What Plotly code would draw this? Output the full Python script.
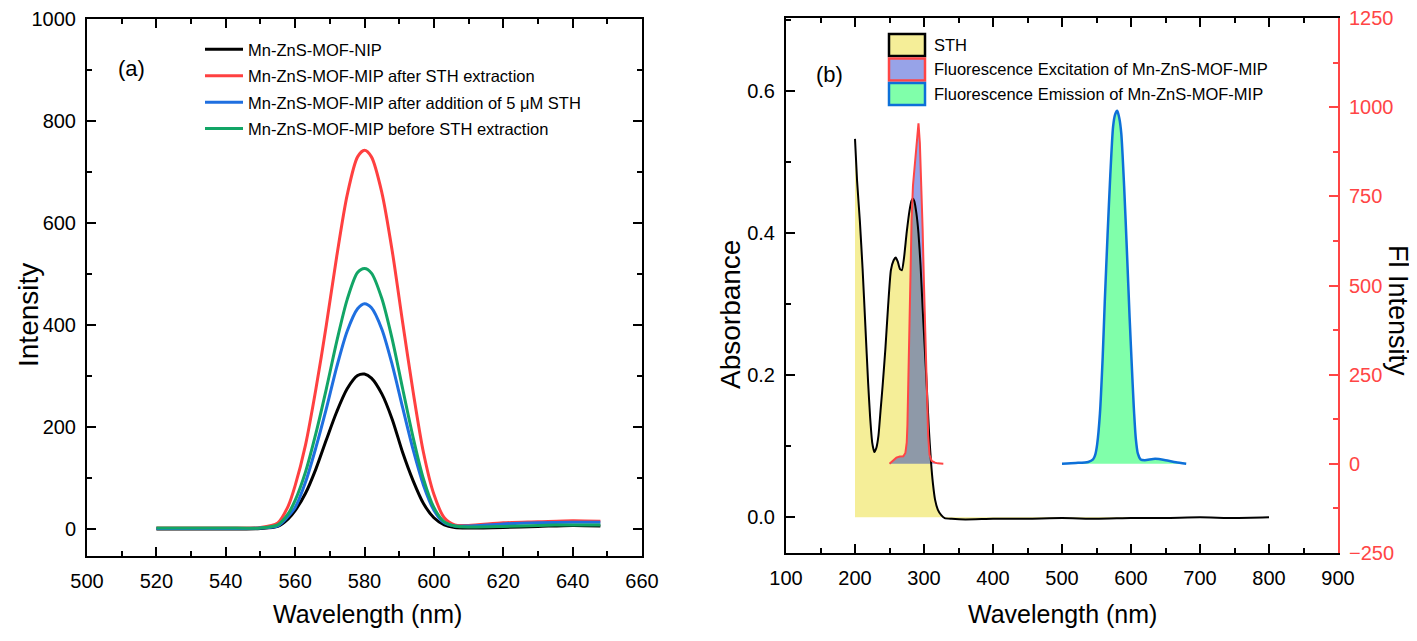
import numpy as np
import plotly.graph_objects as go

W, H = 1417, 641
OFF = 8  # the page body adds an 8 px margin around the figure

# (a) emission spectra
wl_a = [520, 530, 540, 550, 555, 558, 560, 563, 566, 569, 572, 575, 578, 580,
        582, 585, 588, 591, 594, 597, 600, 603, 606, 610, 620, 630, 640, 648]
nip = [0, 0, 0, 1, 5, 20, 36, 70, 118, 175, 230, 275, 301, 304,
       296, 265, 215, 150, 95, 50, 22, 8, 3, 2, 3, 5, 7, 6]
mip_after_ext = [2, 2, 2, 3, 12, 45, 85, 165, 275, 400, 535, 655, 730, 743,
                 730, 660, 545, 405, 270, 150, 68, 22, 8, 7, 12, 14, 16, 15]
mip_after_add = [1, 1, 1, 2, 6, 25, 42, 92, 160, 236, 318, 388, 432, 442,
                 434, 392, 322, 238, 156, 86, 37, 12, 6, 6, 10, 12, 13, 13]
mip_before_ext = [2, 2, 2, 2, 8, 30, 56, 112, 188, 275, 368, 450, 503, 511,
                  502, 452, 372, 275, 180, 98, 42, 14, 6, 4, 5, 7, 8, 8]

# (b) STH absorbance
sth_wl = [200, 203, 207, 211, 215, 219, 222, 225, 228, 231, 234, 237, 240, 244,
          248, 252, 256, 259, 262, 265, 268, 271, 275, 279, 282, 284, 286, 289,
          292, 295, 298, 301, 304, 307, 310, 313, 316, 320, 325, 330, 340, 360,
          400, 450, 500, 550, 600, 650, 700, 750, 800]
sth_abs = [0.533, 0.474, 0.418, 0.350, 0.270, 0.190, 0.140, 0.105, 0.092, 0.098,
           0.115, 0.150, 0.185, 0.237, 0.298, 0.348, 0.362, 0.366, 0.360, 0.350,
           0.348, 0.365, 0.402, 0.432, 0.446, 0.449, 0.445, 0.428, 0.400, 0.355,
           0.295, 0.240, 0.185, 0.125, 0.080, 0.047, 0.025, 0.011, 0.003, -0.001,
           -0.002, -0.003, -0.002, -0.002, -0.001, -0.002, -0.001, -0.001, 0.0,
           -0.001, 0.0]

# (b) fluorescence excitation / emission
exc_wl = [250, 255, 260, 265, 270, 273, 275, 276, 278, 280, 282, 284, 286, 288,
          290, 292, 294, 296, 298, 300, 302, 304, 306, 308, 311, 316, 320, 328]
exc_int = [0, 8, 17, 20, 21, 30, 60, 110, 330, 540, 680, 780, 830, 880,
           930, 955, 900, 800, 660, 500, 350, 200, 80, 25, 8, 3, 1, 0]
em_wl = [500, 520, 538, 545, 548, 551, 555, 559, 562, 566, 570, 574, 577, 580,
         583, 586, 590, 594, 598, 601, 604, 607, 610, 614, 620, 635, 650, 665, 680]
em_int = [0, 2, 5, 12, 24, 55, 141, 300, 455, 640, 810, 945, 980, 990,
          970, 925, 780, 600, 410, 282, 160, 70, 28, 12, 10, 14, 10, 4, 0]

ABS_RANGE = [-0.0502, 0.7032]
FL_RANGE = [-250.5, 1250.5]

FONT = "Liberation Sans, Arial, sans-serif"
RED = "#ff4545"


def to_fl(a):
    # absorbance value -> position on the Fl intensity axis
    a = np.asarray(a, dtype=float)
    return FL_RANGE[0] + (a - ABS_RANGE[0]) * (FL_RANGE[1] - FL_RANGE[0]) / (ABS_RANGE[1] - ABS_RANGE[0])


def px(x, y):
    # screen pixel -> paper fraction
    return (x - OFF) / W, 1 - (y - OFF) / H


fig = go.Figure()

series_a = [
    ("Mn-ZnS-MOF-NIP", nip, "#000000"),
    ("Mn-ZnS-MOF-MIP after STH extraction", mip_after_ext, "#ff4040"),
    ("Mn-ZnS-MOF-MIP after addition of 5 μM STH", mip_after_add, "#1f6fe0"),
    ("Mn-ZnS-MOF-MIP before STH extraction", mip_before_ext, "#12a566"),
]
for i, (name, vals, col) in enumerate(series_a):
    fig.add_trace(go.Scatter(x=wl_a, y=vals, name=name, mode="lines",
                             line=dict(color=col, width=3, shape="spline", smoothing=0.8),
                             legendgroup=str(i), xaxis="x", yaxis="y"))

# STH area (absorbance axis)
fig.add_trace(go.Scatter(x=sth_wl, y=sth_abs, mode="lines", fill="tozeroy",
                         fillcolor="#f5ee98", line=dict(width=0, color="#f5ee98"),
                         showlegend=False, xaxis="x2", yaxis="y2"))

# excitation: part overlapping STH shown grey, the rest lavender
grid = np.linspace(exc_wl[0], exc_wl[-1], 500)
exc_g = np.interp(grid, exc_wl, exc_int)
sth_g = to_fl(np.interp(grid, sth_wl, sth_abs))
overlap = np.minimum(exc_g, np.maximum(sth_g, 0))
fig.add_trace(go.Scatter(x=grid, y=overlap, mode="lines", fill="tozeroy",
                         fillcolor="#8e99a8", line=dict(width=0, color="#8e99a8"),
                         showlegend=False, xaxis="x2", yaxis="y3"))
fig.add_trace(go.Scatter(x=exc_wl, y=exc_int, mode="lines", fill="tonexty",
                         fillcolor="#97a3e8", line=dict(width=0, color=RED),
                         showlegend=False, xaxis="x2", yaxis="y3"))
fig.add_trace(go.Scatter(x=em_wl, y=em_int, mode="lines", fill="tozeroy",
                         fillcolor="#80ffaa",
                         line=dict(width=2.5, color="#0d70d8", shape="spline", smoothing=0.6),
                         showlegend=False, xaxis="x2", yaxis="y3"))
# STH curve on top of the fills
fig.add_trace(go.Scatter(x=sth_wl, y=to_fl(sth_abs), mode="lines",
                         line=dict(width=2, color="#000000", shape="spline", smoothing=0.5),
                         showlegend=False, xaxis="x2", yaxis="y3"))
fig.add_trace(go.Scatter(x=exc_wl, y=exc_int, mode="lines",
                         line=dict(width=2, color=RED),
                         showlegend=False, xaxis="x2", yaxis="y3"))

tickfont = dict(family=FONT, size=20, color="black")
common = dict(showgrid=False, zeroline=False, ticks="inside", ticklen=9, tickwidth=2,
              showline=True, linewidth=2, linecolor="black", tickcolor="black",
              tickfont=tickfont, automargin=False, ticklabeloverflow="allow")


def xdom(a, b):
    return [(a - OFF) / W, (b - OFF) / W]


def ydom(top, bottom):
    return [1 - (bottom - OFF) / H, 1 - (top - OFF) / H]


lx, ly = px(200, 32)
fig.update_layout(
    width=W, height=H, autosize=False,
    margin=dict(l=0, r=0, t=0, b=0, autoexpand=False),
    plot_bgcolor="white", paper_bgcolor="white",
    font=dict(family=FONT, color="black"),
    xaxis=dict(domain=xdom(87, 642), range=[500, 660], dtick=20, anchor="y",
               mirror="ticks", ticklabelstandoff=6,
               minor=dict(dtick=10, ticklen=5, tickwidth=1.5, ticks="inside", tickcolor="black"),
               **common),
    yaxis=dict(domain=ydom(19, 556), range=[-53, 1000.5], dtick=200, anchor="x",
               mirror="ticks", ticklabelstandoff=5,
               minor=dict(dtick=100, ticklen=5, tickwidth=1.5, ticks="inside", tickcolor="black"),
               **common),
    xaxis2=dict(domain=xdom(786, 1338), range=[100, 900], dtick=100, anchor="y2",
                mirror="ticks", ticklabelstandoff=6,
                minor=dict(dtick=50, ticklen=5, tickwidth=1.5, ticks="inside", tickcolor="black"),
                **common),
    yaxis2=dict(domain=ydom(18, 553), range=ABS_RANGE, dtick=0.2, tickformat=".1f",
                anchor="x2", ticklabelstandoff=5,
                minor=dict(dtick=0.1, ticklen=5, tickwidth=1.5, ticks="inside", tickcolor="black"),
                **common),
    yaxis3=dict(overlaying="y2", side="right", anchor="x2", range=FL_RANGE, dtick=250,
                tick0=0, showgrid=False, zeroline=False, ticks="inside", ticklen=9, tickwidth=2,
                showline=True, linewidth=2, linecolor=RED, tickcolor=RED, automargin=False,
                ticklabeloverflow="allow",
                tickfont=dict(family=FONT, size=20, color=RED), ticklabelstandoff=5,
                minor=dict(dtick=125, ticklen=5, tickwidth=1.5, ticks="inside", tickcolor=RED)),
    legend=dict(x=lx, y=ly, xanchor="left", yanchor="top",
                bgcolor="rgba(0,0,0,0)", font=dict(family=FONT, size=16.5),
                tracegroupgap=2, itemwidth=38),
)

ann = []


def text(x, y, s, size, angle=0, color="black", xanchor="center"):
    xp, yp = px(x, y)
    ann.append(dict(x=xp, y=yp, xref="paper", yref="paper", text=s, showarrow=False,
                    textangle=angle, xanchor=xanchor, yanchor="middle",
                    font=dict(family=FONT, size=size, color=color)))


text(367, 614, "Wavelength (nm)", 25)
text(1062, 614, "Wavelength (nm)", 25)
text(28, 315, "Intensity", 28, angle=-90)
text(730, 315, "Absorbance", 28, angle=-90)
text(1398, 310, "Fl Intensity", 27, angle=90)
text(131, 68, "(a)", 22)
text(829, 74, "(b)", 22)

# legend of panel (b)
legend_b = [
    ("STH", "#f5ee98", "black"),
    ("Fluorescence Excitation of Mn-ZnS-MOF-MIP", "#97a3e8", RED),
    ("Fluorescence Emission of Mn-ZnS-MOF-MIP", "#80ffaa", "#0d70d8"),
]
shapes = []
for i, (label, fc, lc) in enumerate(legend_b):
    cy = 45 + i * 24.5
    x0, y0 = px(889, cy - 11)
    x1, y1 = px(925, cy + 11)
    shapes.append(dict(type="rect", xref="paper", yref="paper", x0=x0, x1=x1, y0=y0, y1=y1,
                       fillcolor=fc, line=dict(color=lc, width=2.5)))
    text(932, cy, label, 16.5, xanchor="left")

fig.update_layout(annotations=ann, shapes=shapes)

fig.write_html("out.html")
